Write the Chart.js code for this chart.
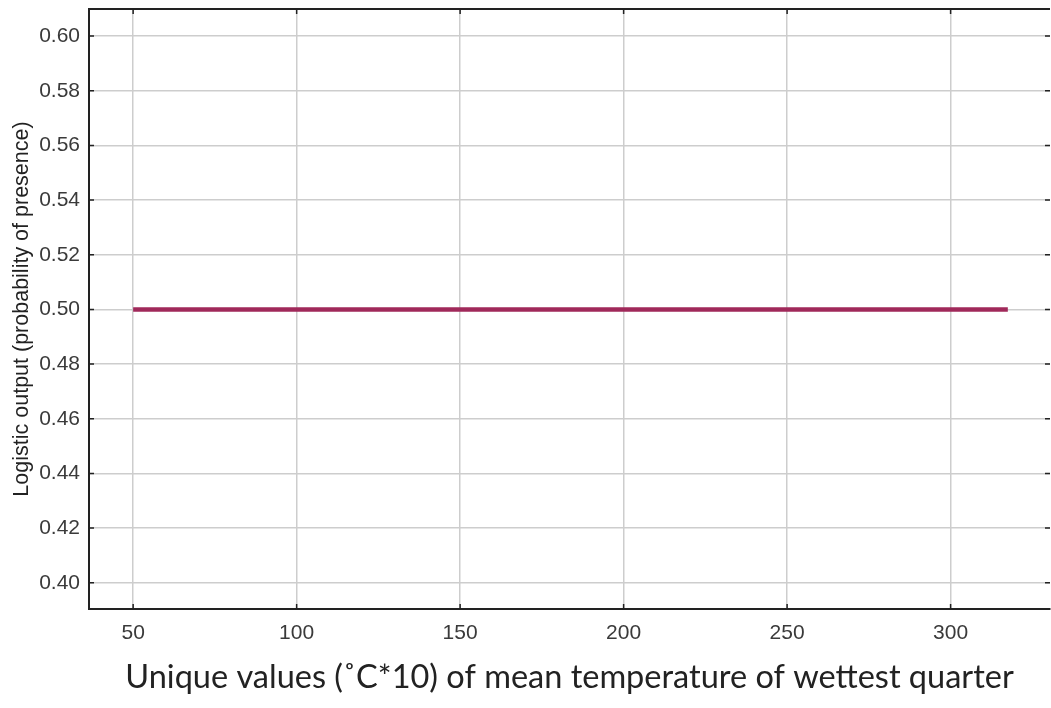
<!DOCTYPE html>
<html>
<head>
<meta charset="utf-8">
<script src="https://cdn.jsdelivr.net/npm/chart.js@4/dist/chart.umd.min.js"></script>
<style>
  html, body { margin: 0; padding: 0; background: #fff; }
  #wrap { width: 1051px; height: 708px; }
</style>
</head>
<body>
<div id="wrap"><canvas id="c" width="1051" height="708"></canvas></div>
<script>
// response curve values
var tempValues = [50, 317.5];
var logisticOutput = [0.50, 0.50];
var xTicks = [50, 100, 150, 200, 250, 300];
var yTicks = [0.40, 0.42, 0.44, 0.46, 0.48, 0.50, 0.52, 0.54, 0.56, 0.58, 0.60];

var points = tempValues.map(function (x, i) {
    return { x: x, y: logisticOutput[i] };
});

// frame + small inward tick marks, like the original plot
var framePlugin = {
    id: "frame",
    afterDraw: function (chart) {
        var ctx = chart.ctx;
        var a = chart.chartArea;
        var xs = chart.scales.x, ys = chart.scales.y;
        ctx.save();
        ctx.strokeStyle = "#222";
        ctx.lineWidth = 2;
        ctx.beginPath();
        ctx.moveTo(a.left, a.top);
        ctx.lineTo(a.right, a.top);
        ctx.stroke();
        ctx.lineWidth = 1.5;
        xTicks.forEach(function (v) {
            var px = xs.getPixelForValue(v);
            ctx.beginPath();
            ctx.moveTo(px, a.bottom); ctx.lineTo(px, a.bottom - 5);
            ctx.moveTo(px, a.top); ctx.lineTo(px, a.top + 5);
            ctx.stroke();
        });
        yTicks.forEach(function (v) {
            var py = ys.getPixelForValue(v);
            ctx.beginPath();
            ctx.moveTo(a.left, py); ctx.lineTo(a.left + 5, py);
            ctx.moveTo(a.right, py); ctx.lineTo(a.right - 5, py);
            ctx.stroke();
        });
        ctx.restore();
    }
};

var ctx = document.getElementById("c").getContext("2d");
new Chart(ctx, {
    type: "scatter",
    data: {
        datasets: [{
            data: points,
            showLine: true,
            borderColor: "#a0295a",
            borderWidth: 4.5,
            pointRadius: 0,
            fill: false
        }]
    },
    options: {
        responsive: false,
        animation: false,
        layout: { padding: { left: 0, right: 1, top: 9, bottom: 0 } },
        plugins: { legend: { display: false }, tooltip: { enabled: false } },
        scales: {
            x: {
                type: "linear",
                min: 36.5,
                max: 330.4,
                afterBuildTicks: function (scale) {
                    scale.ticks = xTicks.map(function (v) { return { value: v }; });
                },
                afterFit: function (scale) {
                    scale.height = 99;
                    scale.paddingLeft = 0;
                    scale.paddingRight = 0;
                },
                grid: { color: "#cdcdcd", lineWidth: 1.5, drawTicks: false },
                border: { color: "#222", width: 2 },
                ticks: {
                    padding: 12,
                    color: "#3a3a3a",
                    font: { family: "Liberation Sans", size: 21 },
                    maxRotation: 0,
                    callback: function (v) { return v; }
                },
                title: {
                    display: true,
                    text: "Unique values (˚C*10) of mean temperature of wettest quarter",
                    color: "#222",
                    font: { family: "Lato", size: 32.5 },
                    padding: { top: 0, bottom: 11 }
                }
            },
            y: {
                min: 0.3904,
                max: 0.6099,
                afterBuildTicks: function (scale) {
                    scale.ticks = yTicks.map(function (v) { return { value: v }; });
                },
                afterFit: function (scale) {
                    scale.width = 89;
                    scale.paddingTop = 0;
                    scale.paddingBottom = 0;
                },
                grid: { color: "#cdcdcd", lineWidth: 1.5, drawTicks: false },
                border: { color: "#222", width: 2 },
                ticks: {
                    padding: 9,
                    color: "#3a3a3a",
                    font: { family: "Liberation Sans", size: 21 },
                    callback: function (v) { return v.toFixed(2); }
                },
                title: {
                    display: true,
                    text: "Logistic output (probability of presence)",
                    color: "#222",
                    font: { family: "Liberation Sans", size: 21.5 },
                    padding: { top: 9, bottom: 0 }
                }
            }
        }
    },
    plugins: [framePlugin]
});
</script>
</body>
</html>
